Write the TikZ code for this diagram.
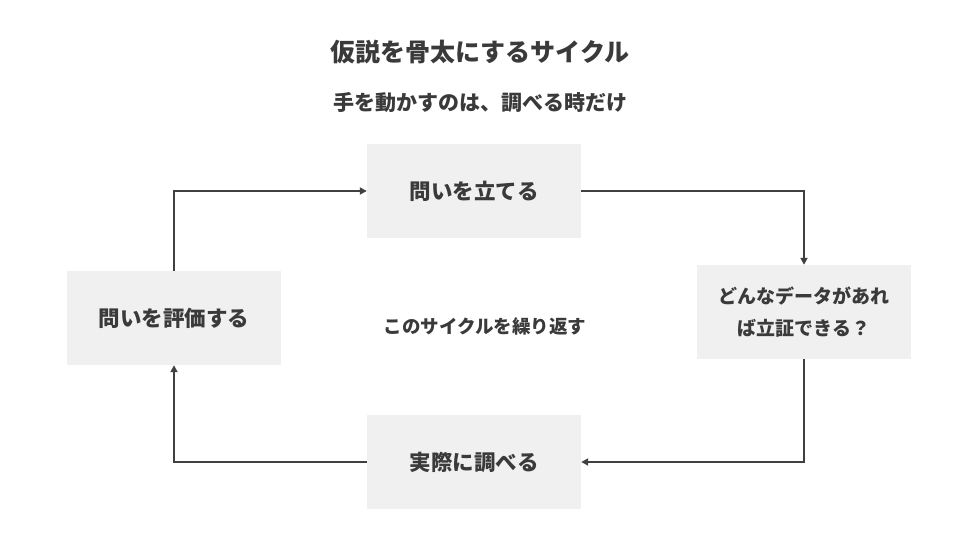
\documentclass[tikz,border=0pt]{standalone}
\usepackage{fontspec}
\setmainfont{Noto Sans CJK JP}[BoldFont={Noto Sans CJK JP Black}]
\usepackage{tikz}
\usetikzlibrary{positioning,arrows.meta}

\definecolor{inkgray}{HTML}{3A3A3A}
\definecolor{linegray}{HTML}{404040}
\definecolor{boxgray}{HTML}{F0F0F0}

\begin{document}
\begin{tikzpicture}[
x=1pt, y=-1pt,
node distance = 30pt and 30pt,
step box/.style={rectangle, fill=boxgray, minimum width=214pt, minimum height=94pt, inner sep=2pt, text=inkgray, font=\bfseries\fontsize{21.5pt}{25pt}\selectfont, align=center},
flow/.style={-{Triangle[length=7pt,width=7pt]}, draw=linegray, line width=2.5pt}]

\useasboundingbox (0,0) rectangle (960,540);

% headings
\node[text=inkgray, font=\bfseries\fontsize{25pt}{28pt}\selectfont] (title) at (480,52) {仮説を骨太にするサイクル};
\node[text=inkgray, font=\bfseries\fontsize{21pt}{24pt}\selectfont] (sub) at (480,103) {手を動かすのは、調べる時だけ};

% the four steps
\node[step box] (ask) at (474,191) {問いを立てる};
\node[step box, font=\bfseries\fontsize{19pt}{32pt}\selectfont] (data) at (804,312) {どんなデータがあれ\\ば立証できる？};
\node[step box] (check) at (474,462) {実際に調べる};
\node[step box] (judge) at (174,318) {問いを評価する};

\node[text=inkgray, font=\bfseries\fontsize{18.5pt}{22pt}\selectfont] (loop) at (485,326) {このサイクルを繰り返す};

\draw[flow] (ask.east) -| (data.north);
\draw[flow] (data.south) |- (check.east);
\draw[flow] (check.west) -| (judge.south);
\draw[flow] (judge.north) |- (ask.west);
\end{tikzpicture}
\end{document}
